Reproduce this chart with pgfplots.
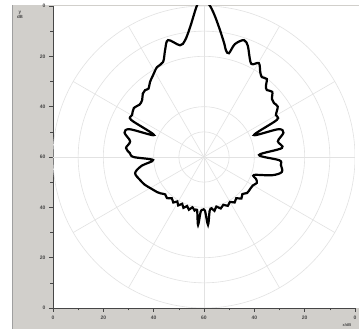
\documentclass[border=0pt]{standalone}
\usepackage{fontspec}
\setmainfont{Liberation Sans}
\usepackage{pgfplots}
\pgfplotsset{compat=1.18}
\definecolor{panel}{RGB}{209,207,203}
\definecolor{gridc}{RGB}{226,226,226}
\definecolor{axc}{RGB}{70,70,70}
\pgfplotstableread{
a r
90 62
88 60.5
86 57
83.4 51.9
80 46
78.4 43.3
76.5 42.4
74.7 46.5
71.1 49.1
68.5 47.5
66.6 45.0
63 41.5
59.7 43.2
56.5 40.5
54.1 39.2
51.2 39.8
49 37.5
46.8 36.5
43.7 37.5
40.5 35.5
37.6 35.1
34.4 35.5
30.3 33.1
27 32.5
23.7 21.7
20.5 31.5
17 33
12 30
6.6 31.2
2.1 21.9
-2.5 30
-5.9 30.7
-10.9 31.5
-15 28
-19.8 21.1
-23 22.5
-26.1 23.4
-30 22.5
-35 22.3
-40 22.3
-44 21.2
-48 22.2
-52 20.8
-56 21.8
-60 20.6
-64 21.6
-68 20.5
-72 21.5
-76 20.3
-79 21.8
-81.5 20.6
-84 21.5
-86.6 27
-89 21.3
-91.5 21.0
-93.5 21.8
-95 27.1
-97.5 21.2
-100 21.6
-103 20.5
-106 21.8
-109 20.6
-112 21.8
-115 20.5
-118 21.8
-121 20.6
-124 21.8
-128 20.8
-132 22
-136 21.4
-140 22.5
-143.3 23.3
-147 24
-150.1 24.7
-155 26
-160.2 27
-166.9 28.1
-172 25
-176.6 20.3
-180 28
-183 29.5
-186.6 31.2
-192 30
-197 33
-200.5 31.5
-203.7 21.7
-207 32.5
-210.3 33.1
-215 34
-219 33
-222.6 33.4
-226 35
-228.6 35.4
-231 35
-234.2 36.7
-238.1 38.3
-242.4 40.3
-246.7 41.1
-250 45.2
-252.9 48.6
-257.9 45.4
-260.8 47
-263.9 51.9
-267.4 60.4
-269 61.5
-270 62
}\curve
\begin{document}
\begin{tikzpicture}
\useasboundingbox (-53pt,-21pt) rectangle (306pt,308pt);
\fill[panel] (-41pt,-21pt) rectangle (306pt,303pt);
\draw[gray!75, line width=1.2pt] (-40.4pt,-21pt) -- (-40.4pt,303pt);
\fill[white] (0pt,0pt) rectangle (306pt,302pt);
\begin{axis}[
  at={(0pt,0pt)}, anchor=south west,
  scale only axis, width=302pt, height=302pt,
  xmin=-60, xmax=60, ymin=-60, ymax=60,
  axis x line=bottom, axis y line=left,
  axis line style={-, axc, line width=0.8pt},
  xtick={-60,-40,...,60}, ytick={-60,-40,...,60},
  xticklabels={0,20,40,60,40,20,0},
  yticklabels={0,20,40,60,40,20,0},
  minor tick num=1,
  tick align=outside,
  major tick length=4pt, minor tick length=2.5pt,
  tick style={axc, line width=0.6pt},
  ticklabel style={font=\fontsize{5}{6}\selectfont\bfseries, text=axc},
  /pgf/number format/assume math mode=true,
  clip=true,
]
\draw[gridc, line width=0.6pt] (axis cs:0,0) ellipse [x radius=10, y radius=10];
\draw[gridc, line width=0.6pt] (axis cs:0,0) ellipse [x radius=20, y radius=20];
\draw[gridc, line width=0.6pt] (axis cs:0,0) ellipse [x radius=40, y radius=40];
\draw[gridc, line width=0.6pt] (axis cs:0,0) ellipse [x radius=50, y radius=50];
\draw[gridc, line width=0.6pt] (axis cs:0,0) ellipse [x radius=60, y radius=60];
\draw[gridc, line width=0.6pt] (axis cs:-60,0) -- (axis cs:60,0);
\draw[gridc, line width=0.6pt] (axis cs:0,-60) -- (axis cs:0,60);
\draw[gridc, line width=0.6pt] (axis cs:-51.96,-30) -- (axis cs:51.96,30);
\draw[gridc, line width=0.6pt] (axis cs:-30,-51.96) -- (axis cs:30,51.96);
\draw[gridc, line width=0.6pt] (axis cs:30,-51.96) -- (axis cs:-30,51.96);
\draw[gridc, line width=0.6pt] (axis cs:51.96,-30) -- (axis cs:-51.96,30);
\addplot[black, line width=2.2pt, smooth, tension=0.55, data cs=polar] table[x=a, y=r] {\curve};
\end{axis}
\node[font=\fontsize{4.5}{5}\selectfont\bfseries, text=axc, align=center] at (-33pt,293pt) {y\\dB};
\node[font=\fontsize{4}{5}\selectfont\bfseries, text=axc] at (294pt,-17.5pt) {x/dB};
\end{tikzpicture}
\end{document}
